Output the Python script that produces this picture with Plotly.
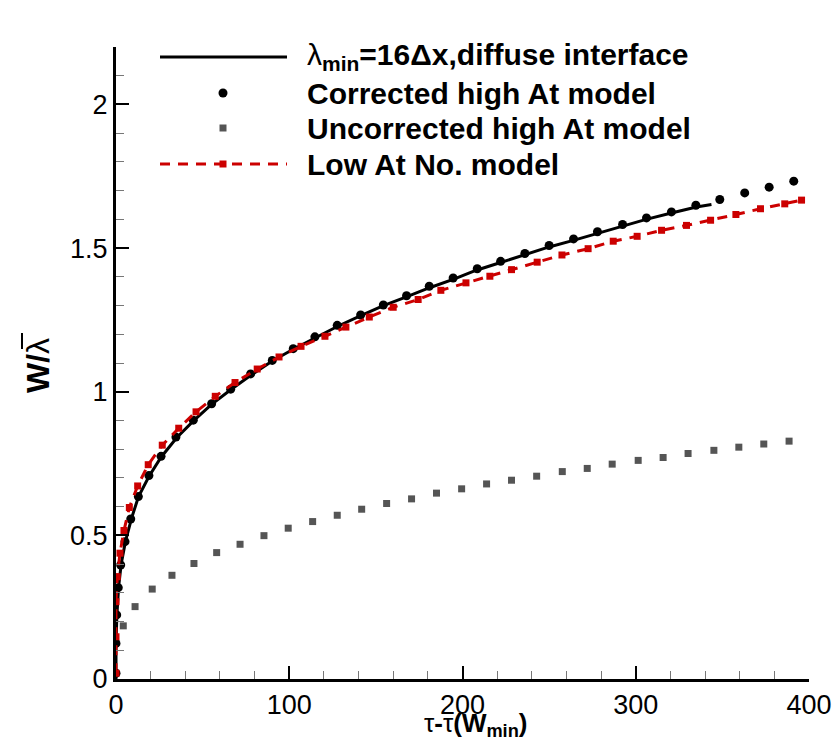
import plotly.graph_objects as go

# Simulation curve (lambda_min = 16 dx, diffuse interface)
sim_x = [0, 0, 0.5, 1.5, 3, 5.5, 9, 13, 19, 26, 35, 45, 55, 66, 78, 90, 102, 115, 128, 141,
         154, 168, 181, 195, 208, 222, 236, 250, 264, 278, 292, 306, 320, 335, 343.7]
sim_y = [0, 0.12, 0.22, 0.32, 0.40, 0.48, 0.56, 0.635, 0.705, 0.772, 0.84, 0.90, 0.955, 1.006,
         1.058, 1.106, 1.147, 1.188, 1.228, 1.264, 1.299, 1.331, 1.362, 1.392, 1.423, 1.450,
         1.476, 1.504, 1.527, 1.552, 1.576, 1.600, 1.621, 1.643, 1.652]

# Corrected high At model
corr_x = [0, 0, 0.4, 1.3, 2.7, 5.2, 8.5, 12.9, 19, 26, 34.6, 44.6, 55.2, 66.2, 77.7, 90.2,
          102.3, 114.8, 127.7, 141.2, 154.3, 167.7, 180.8, 194.6, 208.5, 222, 236, 250,
          264.1, 277.9, 292.4, 306.2, 320.6, 334.7, 348.5, 362.9, 377, 391.2]
corr_y = [0.02, 0.124, 0.223, 0.318, 0.397, 0.478, 0.557, 0.635, 0.708, 0.775, 0.842, 0.901,
          0.958, 1.009, 1.062, 1.109, 1.150, 1.191, 1.231, 1.267, 1.302, 1.334, 1.367, 1.396,
          1.428, 1.454, 1.481, 1.509, 1.532, 1.557, 1.582, 1.605, 1.626, 1.649, 1.669, 1.692,
          1.712, 1.733]

# Uncorrected high At model
unc_x = [4.2, 11, 20.9, 32.3, 45, 58.1, 71.6, 85.4, 99.4, 113.5, 127.7, 141.8, 156.2, 170.6,
         185, 199.5, 213.9, 228.3, 242.8, 257.6, 272, 286.4, 301.4, 315.8, 330.2, 345.1,
         359.5, 373.9, 388.5]
unc_y = [0.185, 0.252, 0.313, 0.361, 0.402, 0.440, 0.469, 0.499, 0.525, 0.548, 0.570, 0.591,
         0.611, 0.627, 0.647, 0.662, 0.679, 0.692, 0.706, 0.722, 0.733, 0.748, 0.761, 0.771,
         0.785, 0.796, 0.807, 0.818, 0.828]

# Low At No. model
low_x = [0, 0, 0, 0.75, 2.3, 4.6, 7.7, 12.5, 18.6, 26.7, 36.2, 46.2, 57.3, 68.7, 81.5, 94.1,
         106.8, 120.6, 132.7, 146.2, 160, 174.4, 187.5, 202, 215.8, 228.3, 243.1, 257.4,
         272.5, 287, 300.8, 314.9, 329.3, 343.2, 357.8, 372, 386, 395.7]
low_y = [0.02, 0.147, 0.269, 0.356, 0.438, 0.517, 0.597, 0.672, 0.746, 0.814, 0.873, 0.930,
         0.984, 1.032, 1.079, 1.121, 1.158, 1.193, 1.225, 1.260, 1.294, 1.321, 1.353, 1.379,
         1.402, 1.425, 1.451, 1.476, 1.498, 1.524, 1.541, 1.562, 1.579, 1.597, 1.617, 1.637,
         1.654, 1.667]

series_names = [
    "λ<sub><b>min</b></sub><b>=16Δx,diffuse interface</b>",
    "<b>Corrected high At model</b>",
    "<b>Uncorrected high At model</b>",
    "<b>Low At No. model</b>",
]

x_ticks = [0, 100, 200, 300, 400]
y_ticks = [0, 0.5, 1, 1.5, 2]
y_ticklabels = ["0", "0.5", "1", "1.5", "2"]

FONT = "Liberation Sans, Arial, Helvetica, sans-serif"
RED = "#cc0000"
GRAY = "#555555"

# plot-area geometry (pixels) used to place the hand-made legend
W, H = 833, 755
ML, MR, MT, MB = 116, 24, 47, 76
PW, PH = W - ML - MR, H - MT - MB


def px(xp):
    return (xp - ML) / PW


def py(yp):
    return (H - MB - yp) / PH


fig = go.Figure()
fig.add_trace(go.Scatter(
    x=sim_x, y=sim_y, mode="lines",
    line=dict(color="black", width=3), name=series_names[0]))
fig.add_trace(go.Scatter(
    x=corr_x, y=corr_y, mode="markers",
    marker=dict(color="black", size=9, symbol="circle"), name=series_names[1]))
fig.add_trace(go.Scatter(
    x=unc_x, y=unc_y, mode="markers",
    marker=dict(color=GRAY, size=7, symbol="square"), name=series_names[2]))
fig.add_trace(go.Scatter(
    x=low_x, y=low_y, mode="lines+markers",
    line=dict(color=RED, width=3, dash="10px,8px"),
    marker=dict(color=RED, size=7, symbol="square"), name=series_names[3]))

# legend (drawn in paper coordinates to match the reference spacing)
row_y = [57, 93, 128, 164]
sx0, sx1, sxm = 160, 287, 223
text_x = 305
shapes = [
    dict(type="line", xref="paper", yref="paper", x0=px(sx0), x1=px(sx1),
         y0=py(row_y[0]), y1=py(row_y[0]), line=dict(color="black", width=3)),
    dict(type="circle", xref="paper", yref="paper", x0=px(sxm - 4.5), x1=px(sxm + 4.5),
         y0=py(row_y[1] - 4.5), y1=py(row_y[1] + 4.5),
         fillcolor="black", line=dict(width=0)),
    dict(type="rect", xref="paper", yref="paper", x0=px(sxm - 3.5), x1=px(sxm + 3.5),
         y0=py(row_y[2] - 3.5), y1=py(row_y[2] + 3.5),
         fillcolor=GRAY, line=dict(width=0)),
    dict(type="line", xref="paper", yref="paper", x0=px(sx0), x1=px(sx1),
         y0=py(row_y[3]), y1=py(row_y[3]), line=dict(color=RED, width=3, dash="10px,8px")),
    dict(type="rect", xref="paper", yref="paper", x0=px(sxm - 3.5), x1=px(sxm + 3.5),
         y0=py(row_y[3] - 3.5), y1=py(row_y[3] + 3.5),
         fillcolor=RED, line=dict(width=0)),
    # overline of the lambda in the y-axis title (title is rotated)
    dict(type="line", xref="paper", yref="paper", x0=px(22), x1=px(22),
         y0=py(333), y1=py(349), line=dict(color="black", width=2)),
]

annotations = [
    dict(text=series_names[i], xref="paper", yref="paper", x=px(text_x), y=py(row_y[i]),
         xanchor="left", yanchor="middle", showarrow=False,
         font=dict(family=FONT, size=30, color="black"))
    for i in range(4)
]
annotations += [
    dict(text="<b>W/</b>λ", xref="paper", yref="paper",
         x=px(38), y=py(366), xanchor="center", yanchor="middle",
         textangle=-90, showarrow=False, font=dict(family=FONT, size=32)),
    dict(text="τ<b>-</b>τ<b>(W<sub>min</sub>)</b>", xref="paper", yref="paper",
         x=px(476), y=py(706), xanchor="center", yanchor="top",
         showarrow=False, font=dict(family=FONT, size=26)),
]

fig.update_layout(
    width=W, height=H,
    margin=dict(l=ML, r=MR, t=MT, b=MB, autoexpand=False),
    plot_bgcolor="white", paper_bgcolor="white",
    font=dict(family=FONT, size=27, color="black"),
    showlegend=False,
    xaxis=dict(
        range=[0, 400], tickvals=x_ticks, ticktext=[str(v) for v in x_ticks],
        showgrid=False, zeroline=False, automargin=False,
        showline=True, linecolor="black", linewidth=3,
        ticks="inside", ticklen=13, tickwidth=2, tickcolor="black",
        minor=dict(dtick=20, ticks="inside", ticklen=8, tickwidth=1, tickcolor="#777777"),
        tickfont=dict(family=FONT, size=27),
    ),
    yaxis=dict(
        range=[0, 2.2], tickvals=y_ticks, ticktext=y_ticklabels,
        showgrid=False, zeroline=False, automargin=False,
        showline=True, linecolor="black", linewidth=3,
        ticks="inside", ticklen=13, tickwidth=2, tickcolor="black",
        minor=dict(dtick=0.1, ticks="inside", ticklen=8, tickwidth=1, tickcolor="#777777"),
        tickfont=dict(family=FONT, size=27),
    ),
    shapes=shapes,
    annotations=annotations,
)

fig.write_html("out.html")
